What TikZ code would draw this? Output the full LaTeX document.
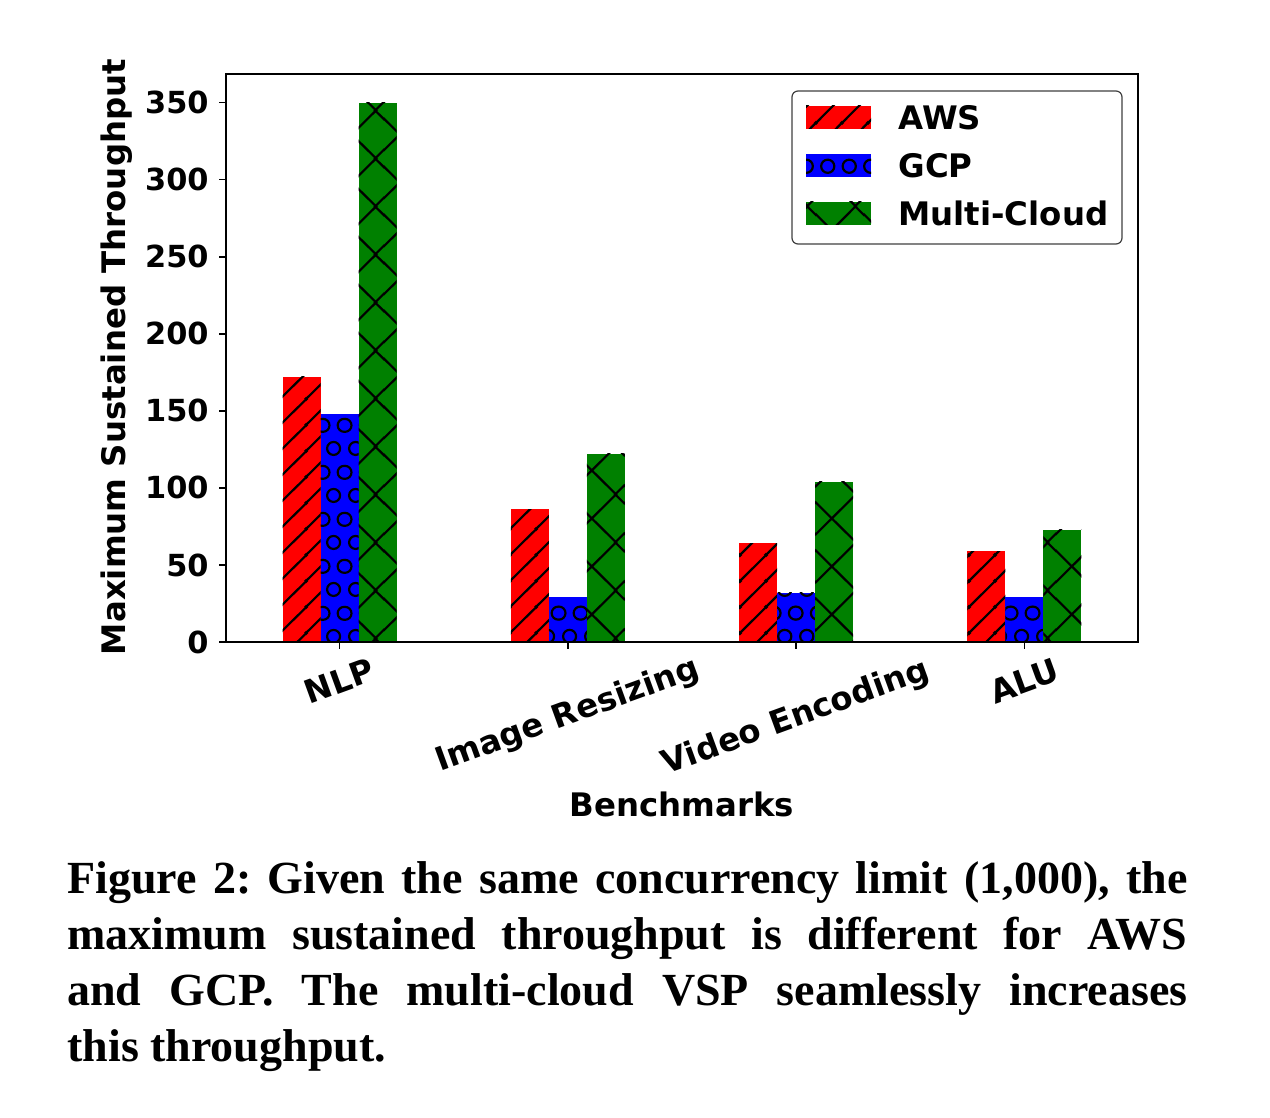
\documentclass[tikz,border=0pt]{standalone}
\usepackage{fontspec}
\setmainfont{Liberation Serif}
\newfontfamily\plotfont{DejaVu Sans}
\usetikzlibrary{patterns.meta}

% hatch fills of the three clouds
\pgfdeclarepattern{
  name=awslines, type=uncolored,
  bottom left={\pgfpointorigin}, top right={\pgfpoint{12.75pt}{12.75pt}},
  tile size={\pgfpoint{12.75pt}{12.75pt}},
  code={
    \pgfsetlinewidth{1.1pt}
    \pgfpathmoveto{\pgfpoint{-1pt}{-1pt}}\pgfpathlineto{\pgfpoint{13.75pt}{13.75pt}}
    \pgfpathmoveto{\pgfpoint{11.75pt}{-1pt}}\pgfpathlineto{\pgfpoint{13.75pt}{1pt}}
    \pgfpathmoveto{\pgfpoint{-1pt}{11.75pt}}\pgfpathlineto{\pgfpoint{1pt}{13.75pt}}
    \pgfusepath{stroke}
  }
}
\pgfdeclarepattern{
  name=cloudcross, type=uncolored,
  bottom left={\pgfpointorigin}, top right={\pgfpoint{24pt}{24pt}},
  tile size={\pgfpoint{24pt}{24pt}},
  code={
    \pgfsetlinewidth{1.1pt}
    \pgfpathmoveto{\pgfpoint{-1pt}{-21pt}}\pgfpathlineto{\pgfpoint{25pt}{5pt}}
    \pgfpathmoveto{\pgfpoint{-1pt}{3pt}}\pgfpathlineto{\pgfpoint{25pt}{29pt}}
    \pgfpathmoveto{\pgfpoint{-1pt}{21pt}}\pgfpathlineto{\pgfpoint{25pt}{-5pt}}
    \pgfpathmoveto{\pgfpoint{-1pt}{45pt}}\pgfpathlineto{\pgfpoint{25pt}{19pt}}
    \pgfusepath{stroke}
  }
}
\pgfdeclarepattern{
  name=gcpcircles, type=uncolored,
  bottom left={\pgfpointorigin}, top right={\pgfpoint{10.75pt}{23.5pt}},
  tile size={\pgfpoint{10.75pt}{23.5pt}},
  code={
    \pgfsetlinewidth{1.1pt}
    \pgfpathcircle{\pgfpoint{5.375pt}{5.875pt}}{3.3pt}
    \pgfpathcircle{\pgfpoint{0pt}{17.625pt}}{3.3pt}
    \pgfpathcircle{\pgfpoint{10.75pt}{17.625pt}}{3.3pt}
    \pgfusepath{stroke}
  }
}

\begin{document}
\begin{tikzpicture}[x=0.5pt, y=-0.5pt,
  every node/.style={inner sep=0pt, font=\plotfont\bfseries\fontsize{16.2}{19}\selectfont},
  ticklabel/.style={font=\plotfont\bfseries\fontsize{15.2}{18}\selectfont},
  awsbar/.style={fill=red, postaction={pattern=awslines}},
  gcpbar/.style={fill=blue, postaction={pattern=gcpcircles}},
  cloudbar/.style={fill=green!50!black, postaction={pattern=cloudcross}}]
\useasboundingbox (0,0) rectangle (1270,1118);

% bars, one group per benchmark
\foreach \c/\a/\g/\m/\name/\ly [count=\i] in
    {339.5/172/148/350/NLP/681, 567.8/86/29/122/Image Resizing/716,
     796.1/64/32/104/Video Encoding/718, 1024.4/59/29/73/ALU/681} {
  \fill[awsbar] (\c-57,642) rectangle (\c-19,{642-\a*1.541});
  \fill[gcpbar] (\c-19,642) rectangle (\c+19,{642-\g*1.541});
  \fill[cloudbar] (\c+19,642) rectangle (\c+57,{642-\m*1.541});
  \draw[line width=0.8pt] (\c,642) -- (\c,649);
  \node[rotate=20] (x\i) at (\c,\ly) {\name};
}

% axes
\draw[line width=0.8pt] (226,74) rectangle (1138,642);
\foreach \v in {0,50,...,350} {
  \draw[line width=0.8pt] (219,{642-\v*1.541}) -- (226,{642-\v*1.541});
  \node[ticklabel, anchor=east] (y\v) at (209,{642-\v*1.541}) {\v};
}
\node[rotate=90] (ylabel) at (117,357) {Maximum Sustained Throughput};
\node (xlabel) at (682,804) {Benchmarks};

% legend
\draw[draw=black!75, line width=0.6pt, fill=white, rounded corners=3pt] (792,91) rectangle (1122,244);
\fill[awsbar] (806,106) rectangle (871,129);
\fill[gcpbar] (806,154) rectangle (871,177);
\fill[cloudbar] (806,202) rectangle (871,225);
\node[anchor=west] (aws) at (898,117.5) {AWS};
\node[anchor=west] (gcp) at (898,165.5) {GCP};
\node[anchor=west] (multi) at (898,213.5) {Multi-Cloud};

% caption
\node[anchor=base west, text width=560pt, align=justify,
      font=\frenchspacing\bfseries\fontsize{23}{28}\selectfont] (caption) at (67,893)
  {Figure 2: Given the same concurrency limit (1,000), the\linebreak
   maximum sustained throughput is different for AWS\linebreak
   and GCP. The multi-cloud VSP seamlessly increases\linebreak
   this throughput.};
\end{tikzpicture}
\end{document}
